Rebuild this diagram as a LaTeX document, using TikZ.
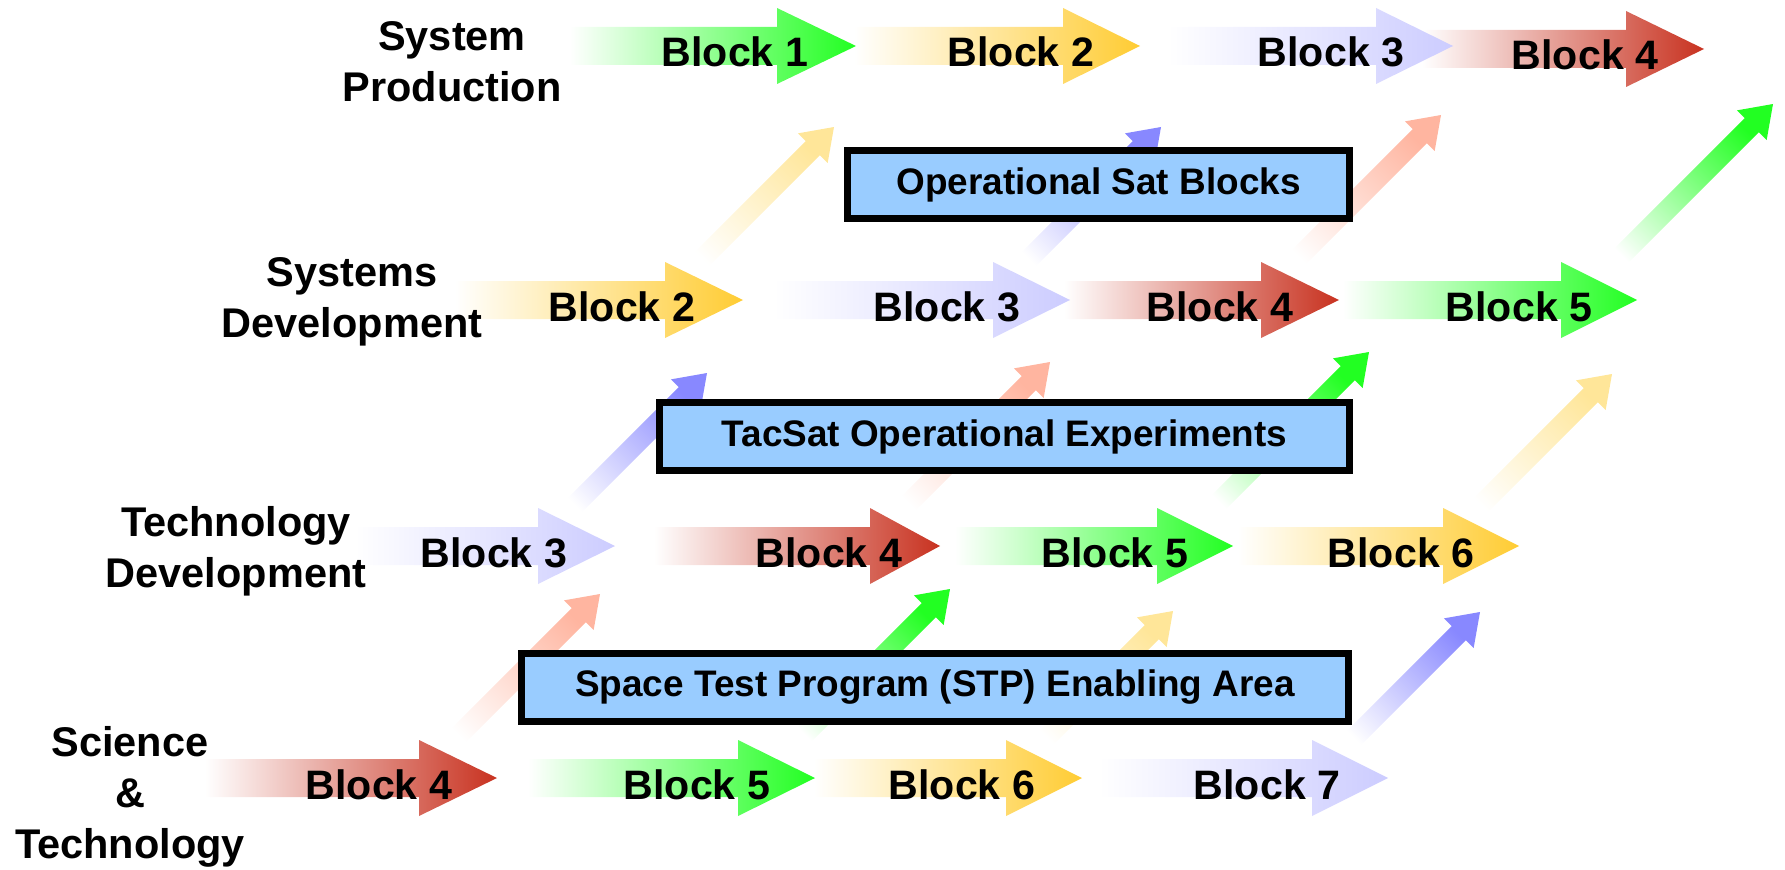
\documentclass[tikz,border=0pt]{standalone}
\usepackage{fontspec}
\setmainfont{Liberation Sans}
\usepackage{tikz}

\definecolor{hgreen}{HTML}{22FF22}
\definecolor{hgold}{HTML}{FFCC33}
\definecolor{hlilac}{HTML}{CCCCFF}
\definecolor{hred}{HTML}{C83220}
\definecolor{dyellow}{HTML}{FFE699}
\definecolor{dblue}{HTML}{8888FF}
\definecolor{dsalmon}{HTML}{FFB5A0}
\definecolor{boxblue}{HTML}{99CCFF}

\tikzset{
  rowlabel/.style={align=center, inner sep=0pt, font=\bfseries\fontsize{11.8}{14.6}\selectfont},
  blocklabel/.style={anchor=base, inner sep=0pt, font=\bfseries\fontsize{11.7}{14}\selectfont},
  areabox/.style={draw=black, line width=2pt, fill=boxblue, inner sep=0pt,
    minimum height=0.68cm, font=\bfseries\fontsize{10.5}{12}\selectfont},
}

\begin{document}
\begin{tikzpicture}[x=0.01cm, y=-0.01cm]
\useasboundingbox (0,0) rectangle (1785,870);
% diagonal arrows, faded at the start
\foreach \tx/\ty/\dd/\cl in {834/127/148/dyellow, 1161/127/148/dblue, 1441/115/160/dsalmon, 1773/104/171/hgreen,
                             707/373/148/dblue, 1050/362/159/dsalmon, 1369/352/169/hgreen, 1612/374/147/dyellow,
                             600/594/159/dsalmon, 950/589/164/hgreen, 1173/611/142/dyellow, 1480/612/141/dblue}
  \shade[bottom color=white, top color=\cl, shading angle=-45]
    ({\tx-\dd-7.07},{\ty+\dd-7.07}) -- ({\tx-28.28},{\ty+14.14}) -- ({\tx-36.06},{\ty+6.36}) -- (\tx,\ty)
    -- ({\tx-6.36},{\ty+36.06}) -- ({\tx-14.14},{\ty+28.28}) -- ({\tx-\dd+7.07},{\ty+\dd+7.07}) -- cycle;
% block arrows, right to left so each head stays on top
\foreach \tl/\hb/\tp/\yy/\cl in {1422/1626/1704/49/hred, 1168/1376/1453/46/hlilac, 854/1063/1140/46/hgold, 570/777/856/46/hgreen,
                                 1343/1561/1637/300/hgreen, 1064/1261/1339/300/hred, 774/993/1070/300/hlilac, 455/665/743/300/hgold,
                                 1238/1443/1519/546/hgold, 955/1157/1233/546/hgreen, 654/870/940/546/hred, 355/538/615/546/hlilac,
                                 1099/1312/1388/778/hlilac, 814/1006/1082/778/hgold, 528/738/815/778/hgreen, 205/419/497/778/hred}
  \shade[left color=white, right color=\cl] (\tl,\yy-19) -- (\hb,\yy-19) -- (\hb,\yy-38) -- (\tp,\yy)
    -- (\hb,\yy+38) -- (\hb,\yy+19) -- (\tl,\yy+19) -- cycle;
% areas
\node[areabox, minimum width=5.01cm] (opsat) at (1098.5,184.5) {Operational Sat Blocks};
\node[areabox, minimum width=6.89cm] (tacsat) at (1004.5,436.5) {TacSat Operational Experiments};
\node[areabox, minimum width=8.27cm] (stp) at (935,687.5) {Space Test Program (STP) Enabling Area};
% rows
\node[rowlabel] (prod) at (452,62) {System\\Production};
\node[rowlabel] (sysdev) at (352,302) {Systems\\Development};
\node[rowlabel] (techdev) at (236,551) {Technology\\Development};
\node[rowlabel] (scitech) at (130,797) {Science\\\&\\Technology};
% block labels
\node[blocklabel] (prod1) at (735,67) {Block 1};
\node[blocklabel] (prod2) at (1021,67) {Block 2};
\node[blocklabel] (prod3) at (1331,67) {Block 3};
\node[blocklabel] (prod4) at (1585,70) {Block 4};
\node[blocklabel] (dev2) at (622,321) {Block 2};
\node[blocklabel] (dev3) at (947,321) {Block 3};
\node[blocklabel] (dev4) at (1220,321) {Block 4};
\node[blocklabel] (dev5) at (1519,321) {Block 5};
\node[blocklabel] (tech3) at (494,567) {Block 3};
\node[blocklabel] (tech4) at (829,567) {Block 4};
\node[blocklabel] (tech5) at (1115,567) {Block 5};
\node[blocklabel] (tech6) at (1401,567) {Block 6};
\node[blocklabel] (sci4) at (379,799) {Block 4};
\node[blocklabel] (sci5) at (697,799) {Block 5};
\node[blocklabel] (sci6) at (962,799) {Block 6};
\node[blocklabel] (sci7) at (1267,799) {Block 7};
\end{tikzpicture}
\end{document}
